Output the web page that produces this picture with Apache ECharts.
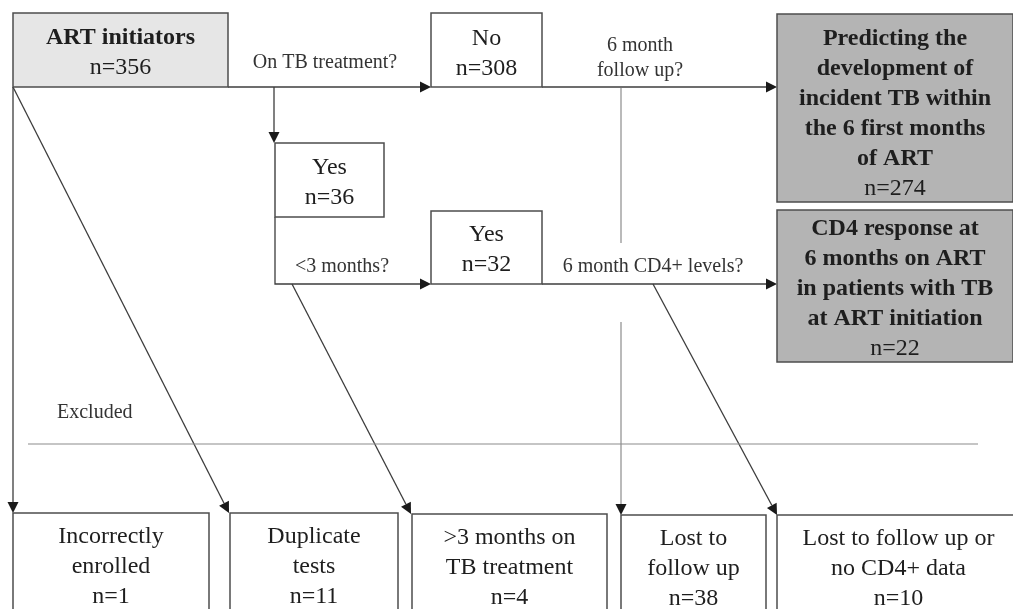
<!DOCTYPE html>
<html>
<head>
<meta charset="utf-8">
<script src="https://cdn.jsdelivr.net/npm/echarts@6/dist/echarts.min.js"></script>
<style>
html, body { margin: 0; padding: 0; background: #fff; }
#chart { width: 1013px; height: 609px; }
</style>
</head>
<body>
<div id="chart"></div>
<script>
// 数据：方框文字和人数
var boxTitles = [
    'ART initiators',
    'No',
    'Yes',
    'Yes',
    'Predicting the\ndevelopment of\nincident TB within\nthe 6 first months\nof ART',
    'CD4 response at\n6 months on ART\nin patients with TB\nat ART initiation',
    'Incorrectly\nenrolled',
    'Duplicate\ntests',
    '>3 months on\nTB treatment',
    'Lost to\nfollow up',
    'Lost to follow up or\nno CD4+ data'
];
var boxCounts = [356, 308, 36, 32, 274, 22, 1, 11, 4, 38, 10];
var questionLabels = ['On TB treatment?', '6 month\nfollow up?', '<3 months?', '6 month CD4+ levels?'];
var sectionLabel = 'Excluded';

// 布局（画布像素坐标）
var boxLayout = [
    [13, 13, 228, 87],
    [431, 13, 542, 87],
    [275, 143, 384, 217],
    [431, 211, 542, 284],
    [777, 14, 1013, 202],
    [777, 210, 1013, 362],
    [13, 513, 209, 625],
    [230, 513, 398, 625],
    [412, 514, 607, 625],
    [621, 515, 766, 625],
    [777, 515, 1020, 625]
];
var boxKind = ['start', 'step', 'step', 'step', 'result', 'result', 'excl', 'excl', 'excl', 'excl', 'excl'];
var boxPad = [25, 26, 25, 24, 25, 19, 24, 24, 24, 24, 24];
var kindStyle = {
    start: { fill: '#e6e6e6', weight: 'bold' },
    step: { fill: '#ffffff', weight: 'normal' },
    result: { fill: '#b4b4b4', weight: 'bold' },
    excl: { fill: '#ffffff', weight: 'normal' }
};
var connectors = [
    { pts: [[228, 87], [431, 87]], arrow: true },
    { pts: [[274, 87], [274, 143]], arrow: true },
    { pts: [[275, 217], [275, 284], [431, 284]], arrow: true },
    { pts: [[542, 87], [777, 87]], arrow: true },
    { pts: [[542, 284], [777, 284]], arrow: true },
    { pts: [[13, 87], [13, 513]], arrow: true },
    { pts: [[13, 87], [229, 513]], arrow: true },
    { pts: [[292, 284], [411, 514]], arrow: true },
    { pts: [[621, 88], [621, 243]], arrow: false, gray: true },
    { pts: [[621, 322], [621, 515]], arrow: true, gray: true },
    { pts: [[653, 284], [777, 515]], arrow: true },
    { pts: [[28, 444], [978, 444]], arrow: false, gray: true }
];
var questionLayout = [[325, 63], [640, 58], [342, 267], [653, 267]];
var sectionLayout = [57, 413];

var FONT = '"Liberation Serif", "Times New Roman", serif';

(function(){
    var myChart = echarts.init(document.getElementById('chart'));

    function renderConnector(params, api) {
        var c = connectors[params.dataIndex];
        var pts = c.pts.map(function (p) { return api.coord(p); });
        var color = c.gray ? '#8c8c8c' : '#3c3c3c';
        var children = [];
        var n = pts.length;
        var tip = pts[n - 1], prev = pts[n - 2];
        var dx = tip[0] - prev[0], dy = tip[1] - prev[1];
        var len = Math.sqrt(dx * dx + dy * dy);
        var ux = dx / len, uy = dy / len;
        var line = pts.slice();
        if (c.arrow) {
            var L = 11, W = 5.5;
            var bx = tip[0] - ux * L, by = tip[1] - uy * L;
            line[n - 1] = [bx, by];
            children.push({
                type: 'polygon',
                shape: { points: [tip, [bx - uy * W, by + ux * W], [bx + uy * W, by - ux * W]] },
                style: { fill: '#1a1a1a' },
                z2: 2
            });
        }
        children.unshift({
            type: 'polyline',
            shape: { points: line },
            style: { stroke: color, lineWidth: c.gray ? 1.2 : 1.3, fill: null }
        });
        return { type: 'group', children: children };
    }

    function renderBox(params, api) {
        var i = params.dataIndex;
        var b = boxLayout[i];
        var p0 = api.coord([b[0], b[1]]);
        var p1 = api.coord([b[2], b[3]]);
        var s = kindStyle[boxKind[i]];
        var lines = boxTitles[i].split('\n').length;
        var top = p0[1] + boxPad[i] - 15;
        var cx = (p0[0] + p1[0]) / 2;
        return {
            type: 'group',
            children: [
                {
                    type: 'rect',
                    shape: { x: p0[0], y: p0[1], width: p1[0] - p0[0], height: p1[1] - p0[1] },
                    style: { fill: s.fill, stroke: '#4d4d4d', lineWidth: 1.5 }
                },
                {
                    type: 'text',
                    style: {
                        text: boxTitles[i], x: cx, y: top, align: 'center', verticalAlign: 'top',
                        lineHeight: 30, fontSize: 24, fontFamily: FONT, fontWeight: s.weight, fill: '#1e1e1e'
                    }
                },
                {
                    type: 'text',
                    style: {
                        text: 'n=' + boxCounts[i], x: cx, y: top + lines * 30, align: 'center', verticalAlign: 'top',
                        lineHeight: 30, fontSize: 24, fontFamily: FONT, fontWeight: 'normal', fill: '#1e1e1e'
                    }
                }
            ]
        };
    }

    function renderLabel(params, api) {
        var i = params.dataIndex;
        var isSection = i === questionLabels.length;
        var pos = api.coord(isSection ? sectionLayout : questionLayout[i]);
        return {
            type: 'text',
            style: {
                text: isSection ? sectionLabel : questionLabels[i],
                x: pos[0], y: pos[1],
                align: isSection ? 'left' : 'center', verticalAlign: 'middle',
                lineHeight: 25, fontSize: 20, fontFamily: FONT, fill: '#333'
            }
        };
    }

    var option = {
        animation: false,
        backgroundColor: '#ffffff',
        grid: { left: 0, right: 0, top: 0, bottom: 0 },
        xAxis: { type: 'value', min: 0, max: 1013, show: false },
        yAxis: { type: 'value', min: 0, max: 609, inverse: true, show: false },
        series: [
            {
                type: 'custom',
                name: 'connectors',
                renderItem: renderConnector,
                data: connectors.map(function (c) { return c.pts[0]; }),
                z: 1
            },
            {
                type: 'custom',
                name: 'boxes',
                renderItem: renderBox,
                data: boxLayout.map(function (b) { return [b[0], b[1]]; }),
                z: 2
            },
            {
                type: 'custom',
                name: 'labels',
                renderItem: renderLabel,
                data: questionLayout.concat([sectionLayout]),
                z: 3
            }
        ]
    };
    myChart.setOption(option);
    window.addEventListener("resize", function(){
        myChart.resize();
    });
})();
</script>
</body>
</html>
